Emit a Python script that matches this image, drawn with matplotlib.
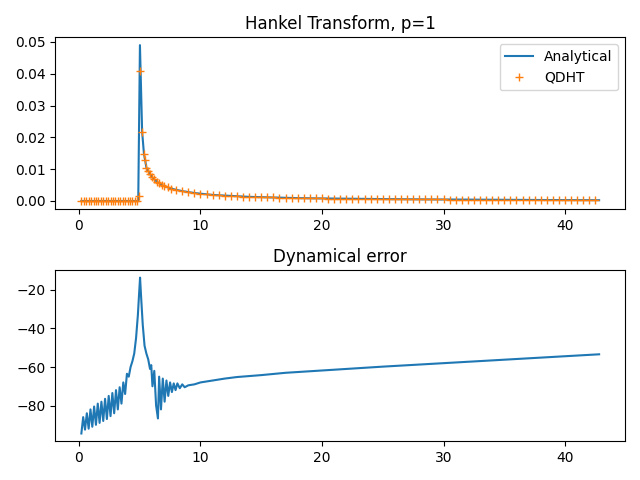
import numpy as np
import matplotlib.pyplot as plt

# QDHT samples
qdht_x = [0.2, 0.4, 0.6, 0.8, 1.0, 1.2, 1.4, 1.6, 1.8, 2.0, 2.2, 2.4, 2.6, 2.8, 3.0,
          3.2, 3.4, 3.6, 3.8, 4.0, 4.2, 4.4, 4.6, 4.8, 4.95, 5.05, 5.2, 5.35, 5.45, 5.55,
          5.7, 5.85, 6.0, 6.2, 6.4, 6.6, 6.8, 7.0, 7.3, 7.6, 8.0, 8.5, 9.0, 9.5, 10.0,
          10.5, 11.0, 11.5, 12.0, 12.5, 13.0, 13.5, 14.0, 14.5, 15.0, 15.5, 16.0, 16.5,
          17.0, 17.5, 18.0, 18.5, 19.0, 19.5, 20.0, 20.5, 21.0, 21.5, 22.0, 22.5, 23.0,
          23.5, 24.0, 24.5, 25.0, 25.5, 26.0, 26.5, 27.0, 27.5, 28.0, 28.5, 29.0, 29.5,
          30.0, 30.5, 31.0, 31.5, 32.0, 32.5, 33.0, 33.5, 34.0, 34.5, 35.0, 35.5, 36.0,
          36.5, 37.0, 37.5, 38.0, 38.5, 39.0, 39.5, 40.0, 40.5, 41.0, 41.5, 42.0, 42.5]
qdht_y = [0.0] * 24 + [0.0015, 0.041, 0.0218, 0.0148, 0.0128, 0.0105,
          0.0095, 0.0085, 0.0075, 0.0068, 0.0061, 0.0056, 0.0051, 0.0047, 0.0043, 0.0039,
          0.0035, 0.0031, 0.0028, 0.0025, 0.0023,
          0.0021, 0.0019, 0.0018, 0.0017, 0.0016, 0.0015, 0.0014, 0.0013, 0.00125, 0.0012,
          0.00115, 0.0011, 0.00105, 0.001, 0.00095, 0.0009, 0.00088, 0.00085, 0.00082,
          0.0008, 0.00078, 0.00076, 0.00074, 0.00072, 0.0007, 0.00068, 0.00066, 0.00064,
          0.00062, 0.0006, 0.00058, 0.00057, 0.00056, 0.00054, 0.00053, 0.00052, 0.0005,
          0.00049, 0.00048, 0.00047, 0.00046, 0.00045, 0.00044, 0.00043, 0.00042, 0.00041,
          0.0004, 0.00039, 0.00038, 0.00037, 0.00036, 0.00035, 0.00034, 0.00033, 0.00032,
          0.00031, 0.0003, 0.0003, 0.00029, 0.00028, 0.00028, 0.00027, 0.00026, 0.00026,
          0.00025]
n = min(len(qdht_x), len(qdht_y))
qdht_x, qdht_y = qdht_x[:n], qdht_y[:n]

# analytical curve: zero, then sharp edge at ~4.9 and the decaying tail
ana_x = [0.2, 4.88, 5.02] + qdht_x[26:] + [42.8]
ana_y = [0.0, 0.0, 0.049] + qdht_y[26:] + [0.00024]

# dynamical error (dB)
err_x = [0.2, 0.35, 0.5, 0.65, 0.8, 0.95, 1.1, 1.25, 1.4, 1.55, 1.7, 1.85, 2.0, 2.15,
         2.3, 2.45, 2.6, 2.75, 2.9, 3.05, 3.2, 3.35, 3.5, 3.65, 3.8, 3.95, 4.1, 4.25,
         4.4, 4.55, 4.7, 4.85, 4.95, 5.03, 5.12, 5.25, 5.4, 5.55, 5.7, 5.85, 5.95, 6.05,
         6.2, 6.35, 6.5, 6.6, 6.75, 6.9, 7.05, 7.2, 7.35, 7.5, 7.65, 7.8, 7.95, 8.1, 8.3,
         8.5, 8.7, 9.0, 9.5, 10, 11, 12, 13, 15, 17, 20, 25, 30, 35, 40, 42.8]
err_y = [-94.5, -86, -92.5, -84, -92, -82, -91, -80.5, -90, -79, -89, -78, -88, -76.5,
         -87, -75, -85.5, -73.5, -84, -72, -82, -70.5, -79, -68, -74, -63.5, -65, -60,
         -57, -53, -45, -33, -22, -13.6, -24, -38, -49, -53, -56, -61, -59, -70,
         -62, -80, -86.7, -65, -82, -66, -78, -67, -75, -68, -73, -68.5, -72, -68.5, -71,
         -69, -70.5, -69.5, -69, -68, -67, -66, -65.2, -64.2, -63, -61.8, -59.8, -58,
         -56.2, -54.4, -53.4]

fig, (ax1, ax2) = plt.subplots(2, 1, figsize=(6.4, 4.8))

ax1.plot(ana_x, ana_y, label='Analytical')
ax1.plot(qdht_x, qdht_y, '+', label='QDHT')
ax1.set_title('Hankel Transform, p=1')
ax1.legend()

ax2.plot(err_x, err_y)
ax2.set_title('Dynamical error')

plt.tight_layout()
plt.savefig('out.png')
